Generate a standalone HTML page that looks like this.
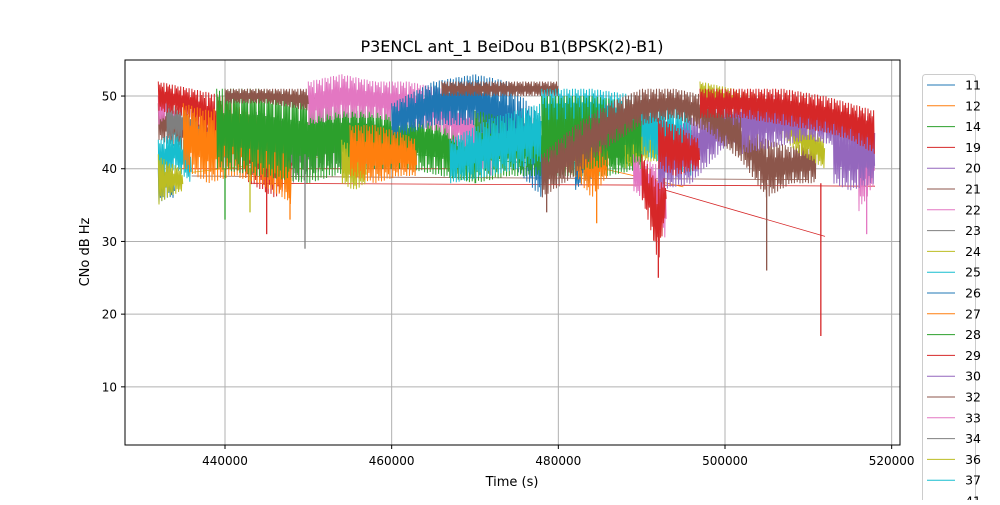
<!DOCTYPE html>
<html><head><meta charset="utf-8"><style>
body{margin:0;background:#fff;font-family:"Liberation Sans","DejaVu Sans",sans-serif}
svg text{font-family:"DejaVu Sans","Liberation Sans",sans-serif}
</style></head><body>
<svg id="chart" width="1000" height="500" viewBox="0 0 1000 500">
<text x="512" y="52" text-anchor="middle" font-size="16">P3ENCL ant_1 BeiDou B1(BPSK(2)-B1)</text>
<g id="grid"></g>
<g id="marks"></g>
<rect x="125" y="60" width="775" height="385" fill="none" stroke="#000" stroke-width="1"/>
<g id="ticks"></g>
<text x="512" y="486" text-anchor="middle" font-size="13">Time (s)</text>
<text x="89" y="252" text-anchor="middle" font-size="13" transform="rotate(-90 89 252)">CNo dB Hz</text>
<g id="legend"></g>
</svg>
<script>
const xTicks=[440000,460000,480000,500000,520000];
const yTicks=[10,20,30,40,50];
const legendLabels=['11','12','14','19','20','21','22','23','24','25','26','27','28','29','30','32','33','34','36','37','41'];
const palette=['#1f77b4','#ff7f0e','#2ca02c','#d62728','#9467bd','#8c564b','#e377c2','#7f7f7f','#bcbd22','#17becf'];
// band series: time (ks), upper envelope, lower envelope, colour index
const bandColor=[5,9,0,8,6,7,3,1,2,6,8,0,1,2,9,0,5,5,1,8,6,9,2,4,5,6,8,4,3,3,4,3];
const bandT=[
[432,436,440],[432,434,436],[432,433,434],[432,433,435],[432,433,434],
[433,436,440,444,448,452,456,461],[432,436,440,443,446,448],[435,438,441,444,447,448],
[439,444,450,456,462,466,470],[450,454,458,462,466,469,472],[454,455.5,457],[460,465,470,474,478],
[455,458,461,463],[470,474,478,482,486,490],[467,472,478],[482,483,484],
[440,445,450],[466,470,475,480],[480,482,484,486],[488,490,492],[489,491,493],
[478,484,490,496],[478,484,490],[492,496,500,504],[478,482,486,490,494,498,502,505,508,511],[516,517,518],
[497,501,505,509,512],[502,506,510,514,518],[490,491,492,493],[492,494,497],[513,515,518],[497,502,507,512,515,518]];
const bandHi=[
[49,48,46],[44,45,43],[40,41,39],[42,41,40],[50,50,49],
[49,48,45,48,46,47,48,44],[52,51,50,47,45,42],[49,48,49,47,45,40],
[51,51,50,49,48,47,45],[52,53,52,52,51,49,47],[44,43,42],[49,52,53,52,47],
[46,46,45,44],[48,47,47,47,47,46],[44,47,49],[41,43,40],
[51,51,51],[52,52,52,52],[46,46,45,44],[45,46,44],[42,41,40],
[51,51,50,48],[50,50,49],[44,47,49,50],[42,46,49,51,51,50,47,44,43,44],[46,45,44],
[52,51,50,47,44],[50,50,49,48,47],[42,40,38,39],[47,46,44],[47,46,46],[51,51,51,50,49,48]];
const bandLo=[
[44,42,43],[38,40,38],[35,36,36],[35,36,37],[46,47,45],
[44,44,40,42,38,40,40,40],[48,47,41,38,36,38],[40,38,39,38,36,35],
[40,39,38,40,40,39,38],[46,47,47,46,45,42,39],[38,37,38],[44,46,46,41,36],
[39,38,39,39],[38,39,39,39,39,40],[38,39,41],[37,38,38],
[49,49,48],[50,50,50,50],[40,39,36,39],[40,41,41],[37,35,30],
[44,45,42,39],[39,40,41],[37,38,43,45],[36,39,43,46,47,45,41,36,38,38],[34,36,38],
[49,48,46,42,40],[42,43,44,43,40],[36,32,27,35],[40,39,40],[38,37,38],[47,47,46,45,44,42]];
// deep fading spikes
const spikeT=[440,445,447.8,449.6,484.6,492,505,511.5,517,478.6,443];
const spikeMin=[33,31,33,29,32.5,25,26,17,31,34,34];
const spikeColor=[2,3,1,7,1,3,5,3,6,5,8];
const spikeTop=[40,40,40,42,40,38,38,38,40,40,40];
// thin connector lines
const connT0=[443,434,436,456,470,490,436];
const connT1=[518,468,452,480,495,512,510];
const connV0=[38,40,39.5,42.5,44,38,39];
const connV1=[37.6,40,41.7,40.5,37.5,30.7,38.5];
const connColor=[3,3,8,2,1,3,5];

const NS='http://www.w3.org/2000/svg';
const X=t=>125+(t*1000-428000)/120;
const Y=v=>445-(v-2)*7.27;
function mk(tag,attrs,parent){const e=document.createElementNS(NS,tag);for(const k in attrs)e.setAttribute(k,attrs[k]);parent.appendChild(e);return e;}
const grid=document.getElementById('grid'),ticks=document.getElementById('ticks'),marks=document.getElementById('marks'),legend=document.getElementById('legend');
xTicks.forEach(t=>{const x=X(t/1000);
 const g=mk('line',{x1:x,x2:x,y1:60,y2:445,stroke:'#b0b0b0','stroke-width':1},grid);
 
 
 mk('line',{x1:x,x2:x,y1:445,y2:449,stroke:'#000'},ticks);
 const tx=mk('text',{x:x,y:465,'text-anchor':'middle','font-size':12},ticks);tx.textContent=t;
 
 
});
yTicks.forEach(v=>{const y=Y(v);
 const g=mk('line',{x1:125,x2:900,y1:y,y2:y,stroke:'#b0b0b0','stroke-width':1},grid);
 
 
 mk('line',{x1:121,x2:125,y1:y,y2:y,stroke:'#000'},ticks);
 const tx=mk('text',{x:117,y:y+4.5,'text-anchor':'end','font-size':12},ticks);tx.textContent=v;
 
 
});
connT0.forEach((t,i)=>{
 const l=mk('line',{x1:X(t),y1:Y(connV0[i]),x2:X(connT1[i]),y2:Y(connV1[i]),stroke:palette[connColor[i]],'stroke-width':0.8},marks);
 
 
});
// texture pattern (styling only): fraction of envelope reached by each zigzag stroke
const tex=[1,0.35,0.8,0.15,0.95,0.5,0.7,0.25,1,0.6,0.4,0.85];
function interp(ts,vs,t){for(let j=0;j<ts.length-1;j++){if(t<=ts[j+1]){const f=(t-ts[j])/(ts[j+1]-ts[j]);return vs[j]+f*(vs[j+1]-vs[j]);}}return vs[vs.length-1];}
bandT.forEach((ts,i)=>{
 const x0=X(ts[0]),x1=X(ts[ts.length-1]);const pts=[];let k=0;
 for(let x=x0;x<=x1;x+=0.7,k++){
  const t=(x-125)*0.12+428;const hi=interp(ts,bandHi[i],t),lo=interp(ts,bandLo[i],t);const mid=(hi+lo)/2;
  const a=tex[k%tex.length],b=tex[(k*5+3)%tex.length];
  const v=(k%2===0)?mid+(hi-mid)*a:mid-(mid-lo)*b;
  pts.push(x.toFixed(1)+','+Y(v).toFixed(1));
 }
 const p=mk('polyline',{points:pts.join(' '),fill:'none',stroke:palette[bandColor[i]],'stroke-width':1},marks);
 
 
});
spikeT.forEach((t,i)=>{
 const l=mk('line',{x1:X(t),x2:X(t),y1:Y(spikeTop[i]),y2:Y(spikeMin[i]),stroke:palette[spikeColor[i]],'stroke-width':1.3},marks);
 
 
});
const box=mk('rect',{x:922.5,y:74.5,width:53,height:440,rx:3,fill:'#fff',stroke:'#ccc'},legend);


legendLabels.forEach((lab,i)=>{const y=85+i*20.8;
 const l=mk('line',{x1:927,x2:955,y1:y,y2:y,stroke:palette[i%10],'stroke-width':1},legend);
 
 
 const tx=mk('text',{x:981,y:y+4.5,'text-anchor':'end','font-size':12.5},legend);tx.textContent=lab;
 
 
});
</script>
</body></html>
